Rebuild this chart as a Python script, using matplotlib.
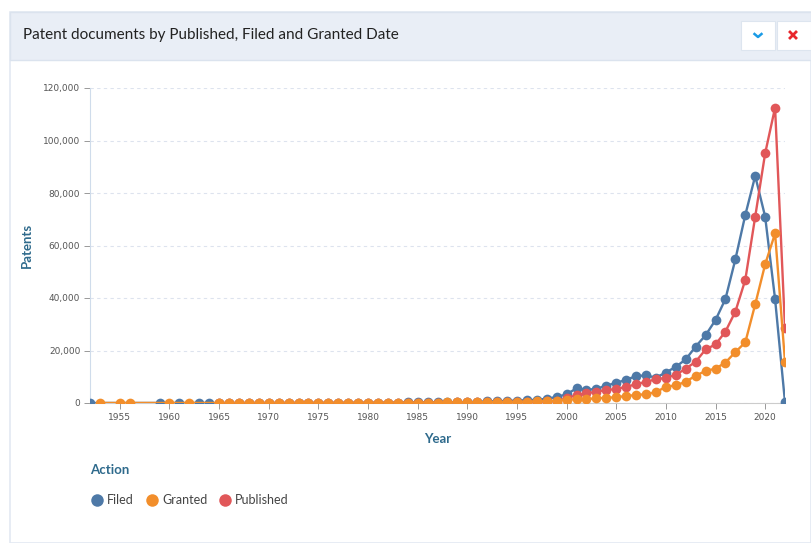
import matplotlib.pyplot as plt
from matplotlib.patches import Rectangle
from matplotlib.lines import Line2D
from matplotlib.ticker import FuncFormatter

# ---------------------------------------------------------------------
# Data
# ---------------------------------------------------------------------

filed_years = [1952, 1959, 1961, 1963, 1964,
               1965, 1966, 1967, 1968, 1969, 1970, 1971, 1972, 1973, 1974,
               1975, 1976, 1977, 1978, 1979, 1980, 1981, 1982, 1983, 1984,
               1985, 1986, 1987, 1988, 1989, 1990, 1991, 1992, 1993, 1994,
               1995, 1996, 1997, 1998, 1999, 2000, 2001, 2002, 2003, 2004,
               2005, 2006, 2007, 2008, 2009, 2010, 2011, 2012, 2013, 2014,
               2015, 2016, 2017, 2018, 2019, 2020, 2021, 2022]
filed_values = [10, 5, 8, 10, 15,
                20, 25, 30, 35, 40, 45, 50, 55, 60, 70,
                80, 90, 100, 110, 120, 130, 150, 170, 190, 210,
                240, 270, 300, 340, 380, 430, 500, 580, 680, 800,
                950, 1050, 1250, 1600, 2300, 3300, 5600, 5000, 5400, 6600,
                7700, 8800, 10300, 10500, 9700, 11600, 13800, 16600, 21500, 25800,
                31600, 39600, 54700, 71600, 86500, 71000, 39600, 300]

granted_years = [1953, 1955, 1956, 1960, 1962,
                 1965, 1966, 1967, 1968, 1969, 1970, 1971, 1972, 1973, 1974,
                 1975, 1976, 1977, 1978, 1979, 1980, 1981, 1982, 1983, 1984,
                 1985, 1986, 1987, 1988, 1989, 1990, 1991, 1992, 1993, 1994,
                 1995, 1996, 1997, 1998, 1999, 2000, 2001, 2002, 2003, 2004,
                 2005, 2006, 2007, 2008, 2009, 2010, 2011, 2012, 2013, 2014,
                 2015, 2016, 2017, 2018, 2019, 2020, 2021, 2022]
granted_values = [10, 8, 10, 12, 15,
                  15, 18, 20, 22, 25, 28, 30, 35, 40, 45,
                  50, 55, 60, 65, 70, 80, 90, 100, 110, 120,
                  140, 160, 180, 200, 230, 260, 300, 340, 380, 420,
                  480, 540, 620, 720, 850, 1300, 1400, 1500, 1800, 2000,
                  2200, 2700, 3000, 3400, 4100, 6200, 6700, 8100, 10400, 12200,
                  13100, 15400, 19400, 23100, 37600, 52800, 64600, 15700]

published_years = [1965, 1966, 1967, 1968, 1969, 1970, 1971, 1972, 1973, 1974,
                   1975, 1976, 1977, 1978, 1979, 1980, 1981, 1982, 1983, 1984,
                   1985, 1986, 1987, 1988, 1989, 1990, 1991, 1992, 1993, 1994,
                   1995, 1996, 1997, 1998, 1999, 2000, 2001, 2002, 2003, 2004,
                   2005, 2006, 2007, 2008, 2009, 2010, 2011, 2012, 2013, 2014,
                   2015, 2016, 2017, 2018, 2019, 2020, 2021, 2022]
published_values = [10, 12, 15, 18, 20, 22, 25, 30, 35, 40,
                    45, 50, 55, 60, 65, 70, 80, 90, 100, 110,
                    120, 140, 160, 180, 200, 230, 260, 300, 340, 380,
                    430, 480, 550, 620, 700, 1800, 3000, 3700, 4300, 5000,
                    5300, 6200, 7100, 8100, 9000, 9600, 10700, 13100, 15700, 20400,
                    22300, 27200, 34800, 46900, 71000, 95100, 112500, 28400]

series_names = ['Filed', 'Granted', 'Published']
series_colors = ['#4e79a7', '#f28e2b', '#e15759']

y_ticks = [0, 20000, 40000, 60000, 80000, 100000, 120000]
x_ticks = [1955, 1960, 1965, 1970, 1975, 1980, 1985, 1990, 1995, 2000,
           2005, 2010, 2015, 2020]

# ---------------------------------------------------------------------
# Figure
# ---------------------------------------------------------------------

W, H = 811, 543
ACCENT = '#2e6a8c'


def fx(px):
    return px / W


def fy(py):
    return 1 - py / H


fig = plt.figure(figsize=(W / 100, H / 100), dpi=100)
fig.patch.set_facecolor('white')

# panel: header strip + left border
fig.add_artist(Rectangle((fx(10), fy(543)), fx(801), 543 / H - 12 / H,
                         transform=fig.transFigure, facecolor='white',
                         edgecolor='#e3e9f2', linewidth=1.2, zorder=0))
fig.add_artist(Rectangle((fx(10), fy(60)), fx(801), 48 / H,
                         transform=fig.transFigure, facecolor='#e9eef6',
                         edgecolor='#dbe3ee', linewidth=1, zorder=1))
fig.text(fx(23), fy(35), 'Patent documents by Published, Filed and Granted Date',
         fontsize=11, family='Lato', color='#222222', va='center', ha='left', zorder=3)

# header buttons
for bx in (741, 777):
    fig.add_artist(Rectangle((fx(bx), fy(50)), fx(34), 29 / H,
                             transform=fig.transFigure, facecolor='white',
                             edgecolor='#dde5ef', linewidth=0.8, zorder=2))
fig.add_artist(Line2D([fx(754.5), fx(758), fx(761.5)], [fy(34), fy(37), fy(34)],
                      transform=fig.transFigure, color='#1a9be6', linewidth=1.8,
                      zorder=3))
fig.add_artist(Line2D([fx(790), fx(796)], [fy(32), fy(38)],
                      transform=fig.transFigure, color='#e8262b', linewidth=2.0, zorder=3))
fig.add_artist(Line2D([fx(790), fx(796)], [fy(38), fy(32)],
                      transform=fig.transFigure, color='#e8262b', linewidth=2.0, zorder=3))

# chart axes
ax = fig.add_axes([fx(90), fy(403), fx(785) - fx(90), fy(88) - fy(403)])
ax.set_facecolor('none')

all_series = [
    (filed_years, filed_values),
    (granted_years, granted_values),
    (published_years, published_values),
]
draw_order = [0, 2, 1]  # orange ends on top, like the reference
for i in draw_order:
    xs, ys = all_series[i]
    ax.plot(xs, ys, color=series_colors[i], linewidth=1.7, marker='o',
            markersize=7, markeredgewidth=0, zorder=3 + draw_order.index(i))

ax.set_xlim(1952, 2022)
ax.set_ylim(0, 120000)
ax.set_xticks(x_ticks)
ax.set_yticks(y_ticks)
ax.yaxis.set_major_formatter(FuncFormatter(lambda v, p: f'{int(v):,}'))
ax.tick_params(axis='both', labelsize=6.5, colors='#555555', length=4,
               width=0.7, pad=3)
ax.tick_params(axis='both', color='#999999')

ax.grid(axis='y', linestyle=(0, (3, 3)), color='#dde3ee', linewidth=0.8)
ax.set_axisbelow(True)
for side in ('top', 'right'):
    ax.spines[side].set_visible(False)
ax.spines['left'].set_color('#cfdceb')
ax.spines['left'].set_linewidth(0.8)
ax.spines['bottom'].set_color('#cccccc')
ax.spines['bottom'].set_linewidth(0.8)

ax.set_ylabel('Patents', fontsize=9.5, family='Lato', fontweight='bold',
              color=ACCENT, labelpad=7)
ax.set_xlabel('Year', fontsize=9.5, family='Lato', fontweight='bold',
              color=ACCENT, labelpad=8)

# legend
fig.text(fx(90), fy(470), 'Action', fontsize=9.5, family='Lato',
         fontweight='bold', color=ACCENT, va='center', ha='left')
legend_x = [97, 152, 225]
for name, color, lx in zip(series_names, series_colors, legend_x):
    fig.add_artist(Line2D([fx(lx)], [fy(500)], transform=fig.transFigure,
                          marker='o', markersize=9, color=color,
                          markeredgewidth=0, linestyle='none'))
    fig.text(fx(lx + 10), fy(500), name, fontsize=9, family='Lato',
             color='#444444', va='center', ha='left')

fig.savefig('out.png', dpi=100)
